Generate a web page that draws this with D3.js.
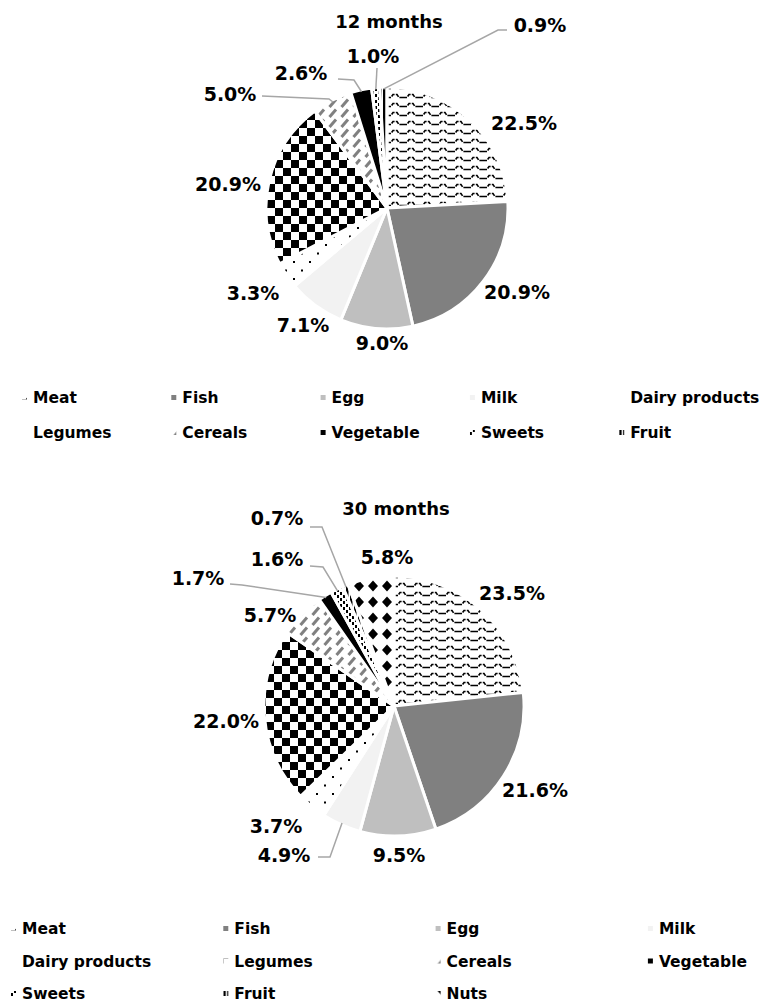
<!DOCTYPE html>
<html>
<head>
<meta charset="utf-8">
<script src="https://cdn.jsdelivr.net/npm/d3@7/dist/d3.min.js"></script>
<style>
  html, body { margin: 0; padding: 0; background: #fff; }
  svg { display: block; }
  text { font-family: "DejaVu Sans", Verdana, sans-serif; font-weight: bold; fill: #000; }
</style>
</head>
<body>
<svg id="chart" width="766" height="1002"></svg>
<script>
// Food group shares (%) at 12 and 30 months
const categories12 = ["Meat", "Fish", "Egg", "Milk", "Dairy products", "Legumes", "Cereals", "Vegetable", "Sweets", "Fruit"];
const values12 = [22.5, 20.9, 9.0, 7.1, 3.3, 20.9, 5.0, 2.6, 1.0, 0.9];

const categories30 = ["Meat", "Fish", "Egg", "Milk", "Dairy products", "Legumes", "Cereals", "Vegetable", "Sweets", "Fruit", "Nuts"];
const values30 = [23.5, 21.6, 9.5, 4.9, 3.7, 22.0, 5.7, 1.7, 1.6, 0.7, 5.8];

const titles = ["12 months", "30 months"];

const svg = d3.select("#chart");
const defs = svg.append("defs");

// ---- fill patterns, one per food group ----
function pat(id, w, h, build) {
  const p = defs.append("pattern").attr("id", id)
    .attr("patternUnits", "userSpaceOnUse").attr("width", w).attr("height", h);
  p.append("rect").attr("width", w).attr("height", h).attr("fill", "#fff");
  build(p);
}
pat("p-meat", 16, 9, p => {
  p.append("path").attr("d", "M0,6.5 H4 L6,3.5 H10 L12,6.5 H16")
    .attr("fill", "none").attr("stroke", "#000").attr("stroke-width", 1.6)
    .attr("stroke-dasharray", "4 1.2");
});
pat("p-dairy", 16, 17, p => {
  p.append("rect").attr("x", 2).attr("y", 2).attr("width", 2).attr("height", 2).attr("fill", "#000");
  p.append("rect").attr("x", 10).attr("y", 10.5).attr("width", 2).attr("height", 2).attr("fill", "#000");
});
pat("p-legumes", 16, 16, p => {
  p.append("rect").attr("x", 0).attr("y", 0).attr("width", 8).attr("height", 8).attr("fill", "#000");
  p.append("rect").attr("x", 8).attr("y", 8).attr("width", 8).attr("height", 8).attr("fill", "#000");
});
pat("p-cereals", 12, 10, p => {
  p.append("line").attr("x1", 2.5).attr("y1", 9).attr("x2", 9).attr("y2", 1.5)
    .attr("stroke", "#808080").attr("stroke-width", 3);
});
pat("p-sweets", 6, 6, p => {
  p.append("rect").attr("x", 0).attr("y", 0).attr("width", 2).attr("height", 3).attr("fill", "#000");
  p.append("rect").attr("x", 3).attr("y", 3).attr("width", 2).attr("height", 3).attr("fill", "#000");
});
pat("p-fruit", 4, 4, p => {
  p.append("rect").attr("x", 0).attr("y", 0).attr("width", 2.5).attr("height", 4).attr("fill", "#000");
});
pat("p-nuts", 14, 16, p => {
  p.append("path").attr("d", "M7,2.5 L12,8 L7,13.5 L2,8 Z").attr("fill", "#000");
});

const fills = d3.scaleOrdinal()
  .domain(categories30)
  .range(["url(#p-meat)", "#808080", "#bfbfbf", "#f2f2f2", "url(#p-dairy)",
          "url(#p-legumes)", "url(#p-cereals)", "#000000", "url(#p-sweets)",
          "url(#p-fruit)", "url(#p-nuts)"]);

// ---- layout of each panel ----
const panels = [
  {
    title: titles[0], cats: categories12, vals: values12,
    cx: 387, cy: 208, r: 121, titleY: 28,
    // label anchor (text centre, baseline) relative to pie centre
    labels: [[137, -78], [130, 91], [-5, 142], [-84, 124], [-134, 92],
             [-159, -17], [-157, -107], [-86, -128], [-14, -145], [153, -176]],
    // leader lines: start and elbow relative to pie centre, end on the slice
    leaders: {6: [-125, -112, -58, -109], 7: [-49, -129, -33, -128],
              8: [-10, -140, -10, -140], 9: [120, -178, 111, -178]},
    legend: {x0: 22, dx: 149.3, y0: 403, dy: 35, perRow: 5}
  },
  {
    title: titles[1], cats: categories30, vals: values30,
    cx: 394, cy: 706, r: 130, titleY: 515,
    labels: [[118, -106], [141, 91], [5, 156], [-110, 156], [-118, 127],
             [-168, 22], [-124, -84], [-196, -121], [-117, -140], [-117, -181], [-7, -142]],
    leaders: {3: [-76, 151, -64, 151], 7: [-164, -122, -152, -121],
              8: [-84, -140, -71, -139], 9: [-84, -179, -72, -179]},
    legend: {x0: 11, dx: 212.3, y0: 934, dy: 32.5, perRow: 4}
  }
];

panels.forEach(pn => {
  const rows = pn.cats.map((c, i) => ({cat: c, value: pn.vals[i], idx: i}));
  const pie = d3.pie().sort(null).value(d => d.value);
  const arcs = pie(rows);
  const arc = d3.arc().innerRadius(0).outerRadius(pn.r);

  const g = svg.append("g").attr("transform", `translate(${pn.cx},${pn.cy})`);

  g.selectAll("path.slice").data(arcs).join("path")
    .attr("class", "slice")
    .attr("d", arc)
    .attr("fill", d => fills(d.data.cat))
    .attr("stroke", "#fff")
    .attr("stroke-width", 3)
    .attr("stroke-linejoin", "round");

  // leader lines
  Object.entries(pn.leaders).forEach(([k, L]) => {
    const a = arcs[+k];
    const mid = (a.startAngle + a.endAngle) / 2;
    const rr = pn.r - 2;
    const end = [rr * Math.sin(mid), -rr * Math.cos(mid)];
    g.append("path")
      .attr("d", d3.line()([[L[0], L[1]], [L[2], L[3]], end]))
      .attr("fill", "none").attr("stroke", "#a6a6a6").attr("stroke-width", 1.5);
  });

  // value labels
  g.selectAll("text.val").data(arcs).join("text")
    .attr("class", "val")
    .attr("x", (d, i) => pn.labels[i][0])
    .attr("y", (d, i) => pn.labels[i][1])
    .attr("text-anchor", "middle")
    .style("font-size", "19px")
    .text(d => d3.format(".1f")(d.data.value) + "%");

  // title
  svg.append("text")
    .attr("x", pn.cx + 2).attr("y", pn.titleY)
    .attr("text-anchor", "middle")
    .style("font-size", "18px")
    .text(pn.title);

  // legend
  const lg = pn.legend;
  const items = svg.append("g").selectAll("g").data(pn.cats).join("g")
    .attr("transform", (d, i) =>
      `translate(${lg.x0 + (i % lg.perRow) * lg.dx},${lg.y0 + Math.floor(i / lg.perRow) * lg.dy})`);
  items.append("rect")
    .attr("x", 0).attr("y", -8).attr("width", 5).attr("height", 5)
    .attr("fill", d => fills(d));
  items.append("text")
    .attr("x", 11).attr("y", 0)
    .style("font-size", "15.5px")
    .text(d => d);
});
</script>
</body>
</html>
